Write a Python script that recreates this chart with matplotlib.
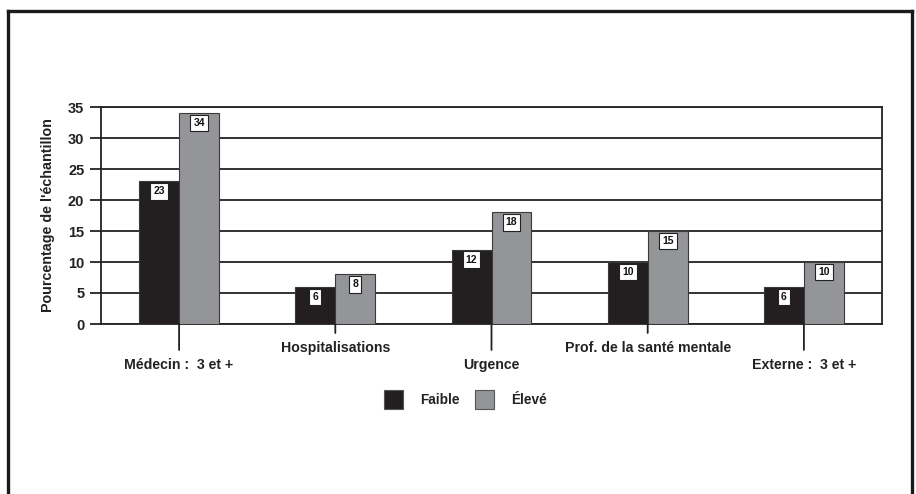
import matplotlib
matplotlib.use("Agg")
import matplotlib.pyplot as plt
from matplotlib.lines import Line2D
from matplotlib.patches import Rectangle
import numpy as np

plt.rcParams['font.family'] = ['Liberation Sans', 'DejaVu Sans']
plt.rcParams['font.weight'] = 'bold'

categories = ["Médecin :  3 et +", "Hospitalisations", "Urgence",
              "Prof. de la santé mentale", "Externe :  3 et +"]
faible = [23, 6, 12, 10, 6]
eleve = [34, 8, 18, 15, 10]
series_names = ["Faible", "Élevé"]
yticks = [0, 5, 10, 15, 20, 25, 30, 35]

dark = "#231f20"
grey = "#939598"
edge = "#3a3a3a"

W, H = 916, 494
fig = plt.figure(figsize=(W / 100, H / 100), dpi=100)
ax = fig.add_axes([101 / W, 1 - 324 / H, (882 - 101) / W, (324 - 107) / H])

x = np.arange(len(categories))
bw = 0.256
b1 = ax.bar(x - bw / 2, faible, bw, color=dark, edgecolor=edge, linewidth=0.8, zorder=3)
b2 = ax.bar(x + bw / 2, eleve, bw, color=grey, edgecolor=edge, linewidth=0.8, zorder=3)

for bars, vals in ((b1, faible), (b2, eleve)):
    for rect, v in zip(bars, vals):
        ax.annotate(str(v), (rect.get_x() + rect.get_width() / 2, v),
                    xytext=(0, -10), textcoords="offset pixels",
                    ha="center", va="center", fontsize=7.5, fontweight="bold",
                    color="#111111", zorder=5,
                    bbox=dict(boxstyle="square,pad=0.3", fc="white",
                              ec="#222222", lw=0.8))

ax.set_xlim(-0.5, len(categories) - 0.5)
ax.set_ylim(0, 35)
ax.set_yticks(yticks)
ax.set_yticklabels([str(t) for t in yticks], fontsize=10.5, fontweight="bold", color="#222222")
ax.yaxis.grid(True, color="#222222", linewidth=1.3, zorder=0)
ax.set_axisbelow(True)
ax.tick_params(axis="y", length=8, width=1.3, color="#222222", pad=4)
for s in ax.spines.values():
    s.set_color("#222222")
    s.set_linewidth(1.3)

# Staggered category labels with matching tick lengths
ax.set_xticks(x)
ax.set_xticklabels([])
ax.tick_params(axis="x", length=0)
for i, name in enumerate(categories):
    long_tick = (i % 2 == 0)
    tick_len = 26 if long_tick else 9
    ax.annotate("", xy=(i, 0), xycoords="data",
                xytext=(0, -tick_len), textcoords="offset pixels",
                arrowprops=dict(arrowstyle="-", color="#222222", lw=1.3,
                                shrinkA=0, shrinkB=0))
    ax.annotate(name, (i, 0), xytext=(0, -41 if long_tick else -24),
                textcoords="offset pixels", ha="center", va="center",
                fontsize=10.2, fontweight="bold", color="#222222",
                annotation_clip=False)

ax.set_ylabel("Pourcentage de l'échantillon", fontsize=10.3, fontweight="bold",
              color="#222222", labelpad=9)

# Legend drawn in figure pixels
for (sx, tx, col, name) in ((384, 420, dark, series_names[0]),
                            (475, 511, grey, series_names[1])):
    fig.patches.append(Rectangle((sx / W, 1 - 409 / H), 19 / W, 19 / H,
                                 transform=fig.transFigure, fc=col,
                                 ec="#555555", lw=0.8))
    fig.text(tx / W, 1 - 400 / H, name, ha="left", va="center",
             fontsize=9.8, fontweight="bold", color="#222222")

# Outer frame (open at the bottom)
fl = dict(color="#1a1a1a", linewidth=2.4, transform=fig.transFigure)
fig.lines.append(Line2D([7.5 / W, 7.5 / W], [0, 1 - 11 / H], **fl))
fig.lines.append(Line2D([912 / W, 912 / W], [0, 1 - 11 / H], **fl))
fig.lines.append(Line2D([7.5 / W, 912 / W], [1 - 11 / H, 1 - 11 / H], **fl))

fig.savefig("out.png", dpi=100, facecolor="white")
